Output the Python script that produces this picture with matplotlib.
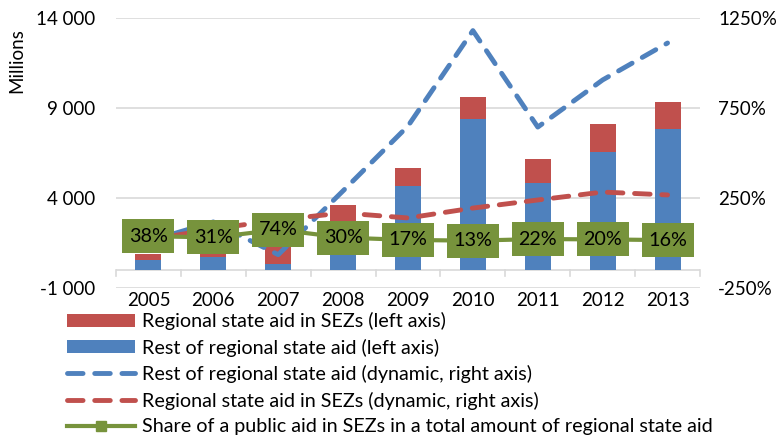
import matplotlib
matplotlib.use("Agg")
import matplotlib.pyplot as plt
import numpy as np
from matplotlib.lines import Line2D
from matplotlib.patches import Patch

years = ["2005", "2006", "2007", "2008", "2009", "2010", "2011", "2012", "2013"]
rest_aid = [560, 750, 330, 2530, 4680, 8390, 4815, 6540, 7830]
sez_aid = [343, 337, 940, 1080, 985, 1240, 1335, 1590, 1500]
rest_dyn = [10, 117, -65, 290, 650, 1180, 644, 906, 1111]
sez_dyn = [17, 78, 128, 167, 139, 194, 239, 283, 267]
share = [38, 31, 74, 30, 17, 13, 22, 20, 16]
left_ticks = [-1000, 4000, 9000, 14000]
left_labels = ["-1 000", "4 000", "9 000", "14 000"]
right_ticks = [-250, 250, 750, 1250]
right_labels = ["-250%", "250%", "750%", "1250%"]

RED = "#C0504D"
BLUE = "#4F81BD"
GREEN = "#77933C"
GRID = "#D9D9D9"

plt.rcParams['font.family'] = ['Lato', 'DejaVu Sans']
FS = 14.2
TFS = 13.5

fig = plt.figure(figsize=(7.79, 4.36), dpi=100)
ax = fig.add_axes([116/779, 1-288/436, 584/779, 270/436])
x = np.arange(len(years))

ax.bar(x, rest_aid, width=0.4, color=BLUE, zorder=2)
ax.bar(x, sez_aid, width=0.4, bottom=rest_aid, color=RED, zorder=2)
ax.set_xlim(-0.5, len(years)-0.5)
ax.set_ylim(-1000, 14000)
ax.set_yticks(left_ticks)
ax.set_yticklabels(left_labels, fontsize=TFS)
ax.tick_params(axis='y', length=0, pad=15)
ax.set_xticks(x)
ax.set_xticklabels(years, fontsize=TFS)
ax.tick_params(axis='x', length=0, pad=3)
for t in left_ticks:
    ax.axhline(t, color=GRID, lw=1.2, zorder=0)
ax.axhline(0, color=GRID, lw=1.2, zorder=1)
for b in np.arange(-0.5, len(years), 1.0):
    ax.plot([b, b], [0, -350], color=GRID, lw=1.2, zorder=1, clip_on=False)
for s in ax.spines.values():
    s.set_visible(False)

ax2 = ax.twinx()
ax2.set_ylim(-250, 1250)
ax2.set_yticks(right_ticks)
ax2.set_yticklabels(right_labels, fontsize=TFS)
ax2.tick_params(axis='y', length=0, pad=13)
for s in ax2.spines.values():
    s.set_visible(False)

dash = (0, (3.2, 2.4))
ax2.plot(x, rest_dyn, color=BLUE, lw=3.5, linestyle=dash, dash_capstyle='round', zorder=3)
ax2.plot(x, sez_dyn, color=RED, lw=3.5, linestyle=dash, dash_capstyle='round', zorder=3)
ax2.plot(x, share, color=GREEN, lw=3, marker='s', markersize=7, zorder=4)
box = [(-1, -0.654), (1, -0.654), (1, 0.654), (-1, 0.654), (-1, -0.654)]
ax2.plot(x, share, linestyle='none', marker=box, markersize=37.4, markeredgewidth=0,
         markerfacecolor=GREEN, zorder=5)
for xi, v in zip(x, share):
    ax2.text(xi, v, f"{v}%", ha='center', va='center', fontsize=FS, color='black', zorder=6)

fig.text(17/779, 1-28/436, "Millions", rotation=90, ha='center', va='top', fontsize=TFS)

handles = [
    Patch(facecolor=RED, edgecolor='none'),
    Patch(facecolor=BLUE, edgecolor='none'),
    Line2D([], [], color=BLUE, lw=3.5, linestyle=dash, dash_capstyle='round'),
    Line2D([], [], color=RED, lw=3.5, linestyle=dash, dash_capstyle='round'),
    Line2D([], [], color=GREEN, lw=3, marker='s', markersize=7),
]
labels = [
    "Regional state aid in SEZs (left axis)",
    "Rest of regional state aid (left axis)",
    "Rest of regional state aid (dynamic, right axis)",
    "Regional state aid in SEZs (dynamic, right axis)",
    "Share of a public aid in SEZs in a total amount of regional state aid",
]
fig.legend(handles, labels, loc='upper left', bbox_to_anchor=(67/779, 1-312/436),
           frameon=False, fontsize=FS, borderpad=0, borderaxespad=0,
           handlelength=3.45, handleheight=0.62, handletextpad=0.35, labelspacing=0.43)

fig.savefig("out.png", dpi=100)
